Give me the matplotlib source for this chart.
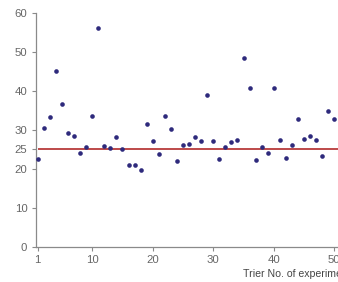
import matplotlib

matplotlib.use("Agg")
import matplotlib.pyplot as plt
import numpy as np

trials = np.arange(1, 51)
values = [22.5, 30.4, 33.3, 45.1, 36.6, 29.2, 28.4, 24.1, 25.6, 33.4,
          56.0, 25.8, 25.4, 28.1, 25.0, 20.9, 20.9, 19.7, 31.5, 27.1,
          23.8, 33.6, 30.2, 22.1, 26.0, 26.4, 28.2, 27.1, 38.9, 27.0,
          22.6, 25.6, 26.8, 27.4, 48.5, 40.8, 22.2, 25.5, 23.9, 40.8,
          27.4, 22.7, 26.0, 32.7, 27.5, 28.4, 27.4, 23.3, 34.9, 32.7]
target = 25
y_ticks = [0, 10, 20, 25, 30, 40, 50, 60]
x_ticks = [1, 10, 20, 30, 40, 50]
x_label = "Trier No. of experiment"

GRAY = "#666666"
plt.rcParams["font.family"] = ["Liberation Sans", "DejaVu Sans"]

fig = plt.figure(figsize=(3.38, 2.82), dpi=100)
ax = fig.add_axes([0.1056, 0.1252, 0.894, 0.8298])

ax.hlines(target, trials[0], trials[-1] + 0.6, color="#b83a3a", lw=1.3, zorder=2)
ax.scatter(trials, values, s=11, color="#2e2a7c", zorder=3, linewidths=0)

ax.set_xlim(0.67, 50.58)
ax.set_ylim(0, 60)
ax.set_xticks(x_ticks)
ax.set_yticks(y_ticks)
for side in ("top", "right"):
    ax.spines[side].set_visible(False)
for side in ("left", "bottom"):
    ax.spines[side].set_color("#8a8a8a")
    ax.spines[side].set_linewidth(0.9)
ax.tick_params(colors="#8a8a8a", labelcolor=GRAY, labelsize=8.2,
               length=3, width=0.8, direction="out", pad=3)

fig.text(243 / 338, 1 - 274 / 282, x_label, fontsize=7.6, color="#444444",
         ha="left", va="center")

fig.savefig("out.png", dpi=100)
plt.close(fig)
